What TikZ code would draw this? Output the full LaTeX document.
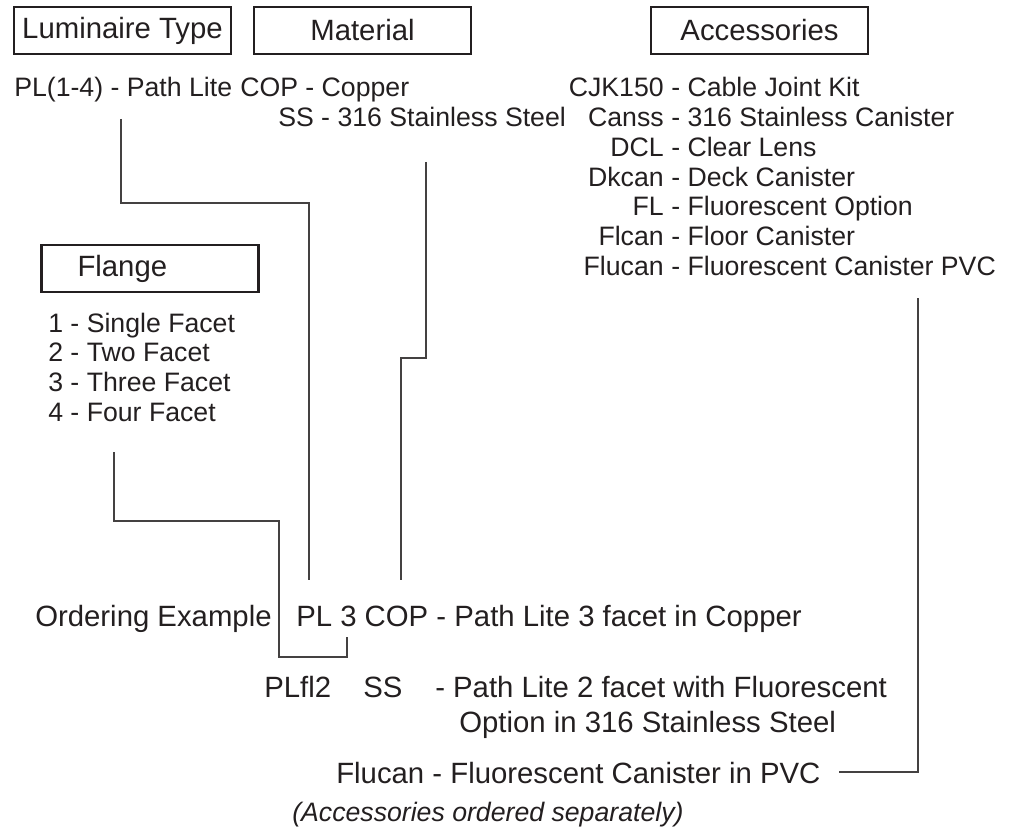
\documentclass[tikz,border=0pt]{standalone}
\usepackage{fontspec}
\setmainfont{Liberation Sans}
\definecolor{ink}{HTML}{231F20}
\tikzset{
  catbox/.style={draw=ink, line width=2pt, minimum width=162.75pt, minimum height=35.25pt,
    inner sep=0pt, text=ink, font=\fontsize{22}{26}\selectfont},
  entry/.style={inner sep=0pt, anchor=base west, text=ink, font=\fontsize{20}{22}\selectfont},
  order/.style={inner sep=0pt, anchor=base west, text=ink, font=\fontsize{22}{26}\selectfont},
  leader/.style={draw=ink!85, line width=1.1pt}}

\begin{document}
\begin{tikzpicture}[x=0.75pt, y=-0.75pt]
  \useasboundingbox (0,0) rectangle (1010,831);

  % headings
  \node[catbox] (lumbox) at (122.5,30.5) {Luminaire Type};
  \node[catbox] (matbox) at (362.5,30.5) {Material};
  \node[catbox] (accbox) at (759.5,30.5) {Accessories};
  \node[catbox, text width=162.75pt, align=left] (flgbox) at (150,268.5) {\hspace*{27pt}Flange};

  % option lists
  \node[entry] (lumpl) at (14,97) {PL(1-4) - Path Lite};
  \node[entry] (matcop) at (240,97) {COP - Copper};
  \node[entry] (matss) at (278,126.7) {SS - 316 Stainless Steel};
  \foreach \code/\desc [count=\i] in {CJK150/Cable Joint Kit, Canss/316 Stainless Canister,
      DCL/Clear Lens, Dkcan/Deck Canister, FL/Fluorescent Option, Flcan/Floor Canister,
      Flucan/Fluorescent Canister PVC}
    \node[entry, anchor=base east] (acccode\i) at (664,{97+29.7*(\i-1)}) {\code}
      node[entry] (accdesc\i) at (671,{97+29.7*(\i-1)}) {- \desc};
  \foreach \n/\facet in {1/Single, 2/Two, 3/Three, 4/Four}
    \node[entry] (flg\n) at (48,{332+29.7*(\n-1)}) {\n{} - \facet{} Facet};

  % ordering example
  \node[order] (ordlabel) at (35,626) {Ordering Example};
  \node[order] (ordone) at (296,626) {PL 3 COP - Path Lite 3 facet in Copper};
  \node[order] (ordtwocode) at (264,697) {PLfl2};
  \node[order] (ordtwomat) at (363,697) {SS};
  \node[order] (ordtwo) at (435,697) {- Path Lite 2 facet with Fluorescent};
  \node[order] (ordtwob) at (459,732) {Option in 316 Stainless Steel};
  \node[order] (ordacc) at (336,783) {Flucan - Fluorescent Canister in PVC};
  \node[entry, font=\fontsize{20}{22}\selectfont\itshape] (ordnote) at (292,821)
    {(Accessories ordered separately)};

  % leaders
  \coordinate (lumtop) at (121,119);
  \coordinate (lumend) at (309,580);
  \coordinate (mattop) at (426,162);
  \coordinate (matend) at (401,580);
  \coordinate (flgtop) at (114,452);
  \coordinate (flgcorner) at (279,657);
  \coordinate (flgend) at (347,637);
  \coordinate (acctop) at (918,298);
  \coordinate (accend) at (839,772);
  \draw[leader] (lumtop) -- ++(0,84) -| (lumend);
  \draw[leader] (mattop) -- ++(0,196) -| (matend);
  \draw[leader] (flgtop) -- ++(0,69) -| (flgcorner) -| (flgend);
  \draw[leader] (acctop) |- (accend);
\end{tikzpicture}
\end{document}
